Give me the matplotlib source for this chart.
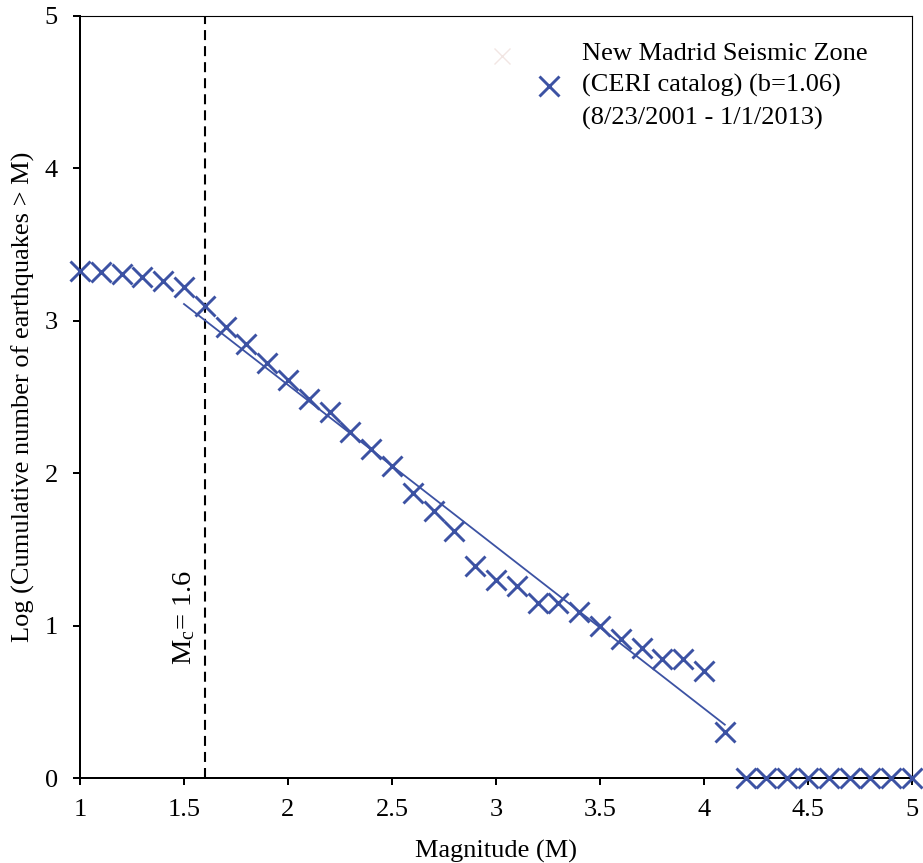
import numpy as np
import matplotlib
matplotlib.use("Agg")
import matplotlib.pyplot as plt

plt.rcParams['font.family'] = ['Liberation Serif', 'DejaVu Serif']
plt.rcParams['mathtext.fontset'] = 'custom'
plt.rcParams['mathtext.rm'] = 'Liberation Serif'
plt.rcParams['mathtext.it'] = 'Liberation Serif:italic'

# cumulative frequency-magnitude data
mag = [1.0, 1.1, 1.2, 1.3, 1.4, 1.5, 1.6, 1.7, 1.8, 1.9,
       2.0, 2.1, 2.2, 2.3, 2.4, 2.5, 2.6, 2.7, 2.8, 2.9,
       3.0, 3.1, 3.2, 3.3, 3.4, 3.5, 3.6, 3.7, 3.8, 3.9,
       4.0, 4.1, 4.2, 4.3, 4.4, 4.5, 4.6, 4.7, 4.8, 4.9, 5.0]
logn = [3.33, 3.32, 3.31, 3.29, 3.26, 3.22, 3.10, 2.96, 2.85, 2.72,
        2.61, 2.49, 2.40, 2.27, 2.16, 2.05, 1.87, 1.75, 1.62, 1.39,
        1.30, 1.26, 1.15, 1.15, 1.09, 1.00, 0.91, 0.85, 0.78, 0.78,
        0.70, 0.30, 0, 0, 0, 0, 0, 0, 0, 0, 0]

# Gutenberg-Richter fit, b = 1.06
fit_x = [1.5, 4.1]
fit_y = [3.11, 0.35]

mc = 1.6
ghost_x = [3.03]
ghost_y = [4.74]

blue = '#3C52A3'
fs = 19

fig = plt.figure(figsize=(9.23, 8.63), dpi=100)
ax = fig.add_axes([80/923, 85/863, 832/923, 762/863])

ax.plot(ghost_x, ghost_y, 'x', color='#F2E6E3', ms=12, mew=1, clip_on=False)
ax.plot(fit_x, fit_y, '-', color=blue, lw=1.3, zorder=3)
pts, = ax.plot(mag, logn, 'x', color=blue, ms=14.4, mew=2.1, clip_on=False,
               zorder=4, linestyle='none')
ax.axvline(mc, color='black', lw=1.5, dashes=(4.8, 2.9), zorder=2)
ax.text(1.5, 0.74, r'$\mathrm{M_c}$= 1.6', rotation=90, ha='center',
        va='bottom', fontsize=20.5)

ax.set_xlim(1, 5)
ax.set_ylim(0, 5)
ax.set_xticks([1, 1.5, 2, 2.5, 3, 3.5, 4, 4.5, 5])
ax.set_xticklabels(['1', '1.5', '2', '2.5', '3', '3.5', '4', '4.5', '5'])
ax.set_yticks([0, 1, 2, 3, 4, 5])
ax.tick_params(direction='out', length=5, width=1.44, labelsize=fs)
ax.tick_params(axis='x', pad=10)
ax.tick_params(axis='y', pad=11)
for s in ['left', 'bottom']:
    ax.spines[s].set_linewidth(1.44)
for s in ['top', 'right']:
    ax.spines[s].set_linewidth(0.8)

ax.set_xlabel('Magnitude (M)', fontsize=fs, labelpad=14)
ax.set_ylabel('Log (Cumulative number of earthquakes > M)', fontsize=fs, labelpad=7)

leg = ax.legend([pts], ['New Madrid Seismic Zone\n(CERI catalog) (b=1.06)\n(8/23/2001 - 1/1/2013)'],
                loc='upper left', bbox_to_anchor=(0.548, 0.965), frameon=False,
                fontsize=fs, handlelength=1.0, handletextpad=0.75, borderpad=0,
                borderaxespad=0)
for t in leg.get_texts():
    t.set_linespacing(1.55)

plt.savefig('out.png', dpi=100)
plt.close()
